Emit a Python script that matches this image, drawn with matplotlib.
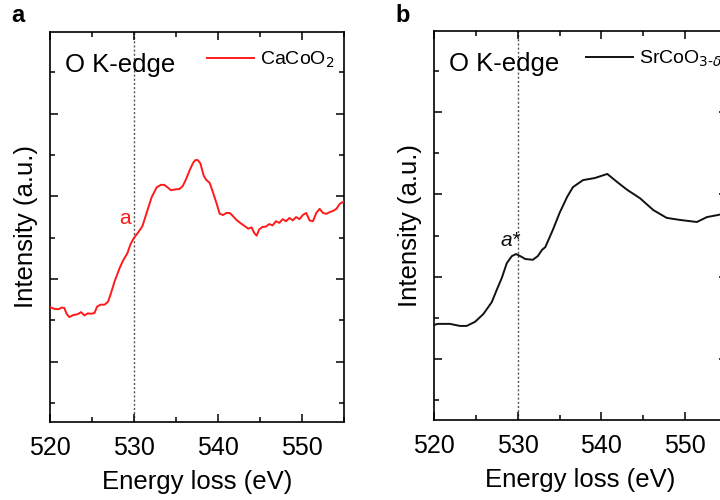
import matplotlib
matplotlib.use("Agg")
import matplotlib.pyplot as plt
from matplotlib.ticker import MultipleLocator, NullFormatter

plt.rcParams['font.family'] = ['Liberation Sans', 'DejaVu Sans']

# ---------------- data ----------------
energy_a = [520.0, 520.5, 521.0, 521.4, 521.7, 522.0, 522.3, 522.8, 523.3, 523.7,
            524.1, 524.5, 524.9, 525.3, 525.6, 526.0, 526.5, 526.9, 527.2, 527.7,
            528.3, 528.7, 529.2, 529.6, 530.0, 530.5, 531.0, 531.5, 532.1, 532.7,
            533.2, 533.6, 534.0, 534.4, 534.9, 535.4, 535.8, 536.2, 536.6, 537.0,
            537.3, 537.6, 537.9, 538.3, 538.6, 539.0, 539.4, 539.8, 540.2, 540.6,
            541.0, 541.4, 541.8, 542.2, 542.7, 543.2, 543.6, 544.0, 544.3, 544.6,
            544.9, 545.3, 545.7, 546.1, 546.5, 546.9, 547.3, 547.7, 548.1, 548.5,
            548.9, 549.3, 549.7, 550.1, 550.5, 550.9, 551.3, 551.7, 552.1, 552.5,
            552.9, 553.3, 553.7, 554.1, 554.5, 555.0]
intensity_a = [2.32, 2.28, 2.27, 2.31, 2.30, 2.15, 2.08, 2.13, 2.15, 2.20,
               2.12, 2.17, 2.16, 2.18, 2.33, 2.38, 2.38, 2.45, 2.62, 2.95,
               3.27, 3.45, 3.62, 3.85, 4.00, 4.13, 4.28, 4.60, 4.98, 5.22,
               5.28, 5.28, 5.22, 5.15, 5.17, 5.18, 5.25, 5.42, 5.62, 5.80,
               5.88, 5.88, 5.80, 5.50, 5.40, 5.33, 5.10, 4.85, 4.58, 4.55,
               4.60, 4.60, 4.52, 4.43, 4.35, 4.28, 4.22, 4.25, 4.12, 4.05,
               4.20, 4.26, 4.27, 4.33, 4.30, 4.40, 4.36, 4.45, 4.40, 4.48,
               4.42, 4.50, 4.45, 4.55, 4.60, 4.42, 4.40, 4.60, 4.70, 4.60,
               4.58, 4.62, 4.65, 4.70, 4.82, 4.88]

energy_b = [520.0, 520.4, 521.9, 523.1, 523.9, 524.9, 525.9, 526.9, 527.5, 528.1,
            528.7, 529.3, 529.8, 530.3, 530.9, 531.8, 532.4, 532.9, 533.3, 534.2,
            535.0, 535.9, 536.6, 537.8, 539.2, 540.7, 541.9, 543.1, 544.6, 546.2,
            547.8, 549.4, 551.4, 552.6, 553.9, 555.0]
intensity_b = [1.82, 1.85, 1.85, 1.80, 1.80, 1.90, 2.09, 2.38, 2.68, 2.97,
               3.33, 3.50, 3.55, 3.50, 3.43, 3.41, 3.50, 3.65, 3.72, 4.14,
               4.55, 4.94, 5.18, 5.35, 5.40, 5.50, 5.30, 5.11, 4.91, 4.62,
               4.43, 4.38, 4.33, 4.45, 4.50, 4.55]

xticks = [520, 530, 540, 550]
edge_energy = 530

# ---------------- figure ----------------
fig = plt.figure(figsize=(7.2, 5.0), dpi=100)
ax_a = fig.add_axes([50/720, 78/500, 294/720, 390/500])
ax_b = fig.add_axes([434/720, 80/500, 293/720, 389/500])

FS = 18.5

def style(ax, ylim):
    ax.set_xlim(520, 555)
    ax.set_ylim(*ylim)
    ax.set_xticks(xticks)
    ax.xaxis.set_minor_locator(MultipleLocator(5))
    ax.set_yticks([1, 3, 5, 7])
    ax.yaxis.set_minor_locator(MultipleLocator(2))
    ax.yaxis.set_major_formatter(NullFormatter())
    ax.tick_params(which='both', direction='in', top=True, right=True, width=1.1,
                   labelsize=18)
    ax.tick_params(axis='x', which='both', pad=10)
    ax.tick_params(axis='y', which='both', pad=0)
    ax.tick_params(which='major', length=5.5)
    ax.tick_params(which='minor', length=3.5)
    for s in ax.spines.values():
        s.set_linewidth(1.2)
    ax.set_xlabel('Energy loss (eV)', fontsize=FS, labelpad=7)
    ax.set_ylabel('Intensity (a.u.)', fontsize=FS, labelpad=9)
    ax.axvline(edge_energy, color='#555555', lw=1.0, ls=(0, (1.5, 1.5)), zorder=1)
    ax.text(0.05, 0.915, 'O K-edge', transform=ax.transAxes, fontsize=FS,
            va='center', ha='left')

style(ax_a, (-0.46, 8.98))
style(ax_b, (-0.49, 8.98))

ax_a.plot(energy_a, intensity_a, color='#ff1a1a', lw=1.4, label='CaCoO$_2$', zorder=3)
ax_b.plot(energy_b, intensity_b, color='#111111', lw=1.4, label='SrCoO$_{3\\text{-}\\delta}$', zorder=3)

for ax, xa in ((ax_a, 0.535), (ax_b, 0.52)):
    ax.legend(loc='upper left', bbox_to_anchor=(xa, 0.955), frameon=False,
              fontsize=14, handlelength=2.4, handletextpad=0.3,
              borderpad=0, borderaxespad=0)

ax_a.text(528.9, 4.46, 'a', color='#ff1a1a', fontsize=15, ha='center', va='center')
ax_b.text(529.1, 3.87, 'a*', color='#111111', fontsize=15, ha='center', va='center',
          style='italic')

fig.text(18/720, 1 - 15/500, 'a', fontsize=17, fontweight='bold', ha='center', va='center')
fig.text(403/720, 1 - 15/500, 'b', fontsize=17, fontweight='bold', ha='center', va='center')

fig.savefig('out.png', dpi=100)
